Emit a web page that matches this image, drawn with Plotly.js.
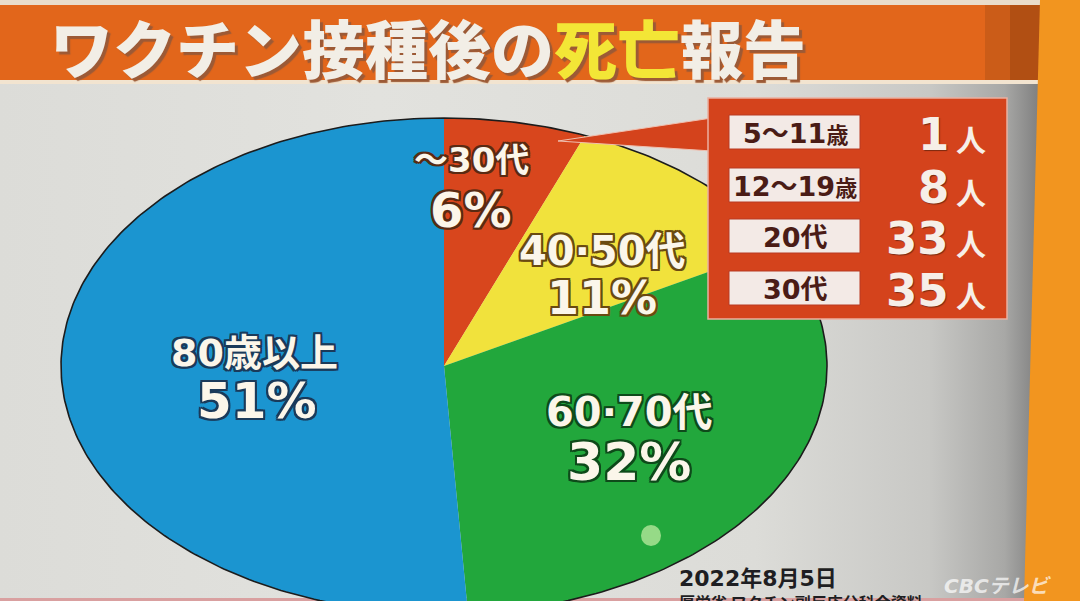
<!DOCTYPE html>
<html><head><meta charset="utf-8">
<script src="https://cdn.plot.ly/plotly-3.0.1.min.js"></script>
<style>
html,body{margin:0;padding:0;}
#chart{width:1080px;height:601px;background:linear-gradient(to right,#dcdcd8 0%,#e2e2de 35%,#dcdcd8 70%,#c8c8c5 86%,#a8a8a6 93%,#828282 96%);}
</style></head>
<body><div id="chart"></div>
<script>
// ---- data ----
const ageGroups = ['～30代', '40·50代', '60·70代', '80歳以上'];
const sharePct = [6, 11, 32, 51];
const youngGroups = ['5～11歳', '12～19歳', '20代', '30代'];
const youngCounts = [1, 8, 33, 35];
const titleMain = 'ワクチン接種後の';
const titleHi = '死亡';
const titleEnd = '報告';
const dateText = '2022年8月5日';
const sourceText = '厚労省 ワクチン副反応分科会資料';
const logoText = 'CBCテレビ';

// ---- style ----
const sliceColors = ['#d8461d', '#f1e23c', '#22a73c', '#1b95d0'];
const outlineCol = ['#5a2a12', '#6a4a10', '#0e4a1a', '#1a3a5a'];
const cx = 444, cy = 366, rx = 383, ry = 248;
const jp = 'Noto Sans CJK JP';
const numFont = 'DejaVu Sans, Noto Sans CJK JP';

function outline(c, w) {
  const o = [];
  for (const [dx, dy] of [[w,0],[-w,0],[0,w],[0,-w],[w,w],[-w,w],[w,-w],[-w,-w]]) o.push(dx+'px '+dy+'px 0 '+c);
  return o.join(', ');
}

const total = sharePct.reduce((a, b) => a + b, 0);
const traces = [];
let cum = 0;
sharePct.forEach((v, i) => {
  const t0 = cum / total, t1 = (cum + v) / total;
  cum += v;
  const xs = [cx], ys = [cy];
  const n = Math.max(4, Math.round((t1 - t0) * 400));
  for (let k = 0; k <= n; k++) {
    const th = 2 * Math.PI * (t0 + (t1 - t0) * k / n);
    xs.push(cx + rx * Math.sin(th));
    ys.push(cy - ry * Math.cos(th));
  }
  xs.push(cx); ys.push(cy);
  traces.push({type: 'scatter', mode: 'lines', x: xs, y: ys, fill: 'toself',
    fillcolor: sliceColors[i], line: {width: 0, color: sliceColors[i]},
    name: ageGroups[i], hoverinfo: 'skip', showlegend: false});
});
// ellipse outline
(function () {
  const xs = [], ys = [];
  for (let k = 0; k <= 400; k++) {
    const th = 2 * Math.PI * k / 400;
    xs.push(cx + rx * Math.sin(th));
    ys.push(cy - ry * Math.cos(th));
  }
  traces.push({type: 'scatter', mode: 'lines', x: xs, y: ys,
    line: {width: 1.6, color: '#1c1c1c'}, hoverinfo: 'skip', showlegend: false});
})();

const shapes = [
  {type: 'rect', xref: 'x', yref: 'y', x0: 0, x1: 1045, y0: 0, y1: 6, fillcolor: '#e9dccb', line: {width: 0}, layer: 'below'},
  {type: 'rect', xref: 'x', yref: 'y', x0: 0, x1: 1045, y0: 5, y1: 80, fillcolor: '#e2661b', line: {width: 0}, layer: 'below'},
  {type: 'rect', xref: 'x', yref: 'y', x0: 985, x1: 1045, y0: 5, y1: 80, fillcolor: 'rgba(150,70,20,0.3)', line: {width: 0}, layer: 'below'},
  {type: 'rect', xref: 'x', yref: 'y', x0: 1010, x1: 1045, y0: 5, y1: 80, fillcolor: 'rgba(120,50,10,0.3)', line: {width: 0}, layer: 'below'},
  {type: 'rect', xref: 'x', yref: 'y', x0: 0, x1: 1045, y0: 80, y1: 84, fillcolor: '#f2e4d0', line: {width: 0}, layer: 'below'},
  {type: 'rect', xref: 'x', yref: 'y', x0: 0, x1: 1080, y0: 598, y1: 601, fillcolor: '#d9a0a0', line: {width: 0}, layer: 'below'},
  {type: 'path', xref: 'x', yref: 'y', path: 'M1040,0 L1080,0 L1080,601 L1024,601 Z', fillcolor: '#f2951f', line: {width: 0}, layer: 'above'},
  // green glare
  {type: 'circle', xref: 'x', yref: 'y', x0: 641, x1: 661, y0: 525, y1: 546, fillcolor: 'rgba(190,235,160,0.75)', line: {width: 0}, layer: 'above'},
  // callout box + pointer
  {type: 'path', xref: 'x', yref: 'y', path: 'M558,141 L712,118 L712,151 Z', fillcolor: '#d4431c', line: {width: 1, color: '#f0c0b0'}, layer: 'above'},
  {type: 'rect', xref: 'x', yref: 'y', x0: 708, x1: 1007, y0: 98, y1: 319, fillcolor: '#d4431c', line: {width: 1.5, color: '#eab0a0'}, layer: 'above'},
  {type: 'rect', xref: 'x', yref: 'y', x0: 711, x1: 716, y0: 119, y1: 150, fillcolor: '#d4431c', line: {width: 0}, layer: 'above'}
];

const rowY = [132, 185, 236, 288];
const annotations = [];
youngGroups.forEach((g, i) => {
  shapes.push({type: 'rect', xref: 'x', yref: 'y', x0: 729, x1: 860, y0: rowY[i] - 17, y1: rowY[i] + 17,
    fillcolor: '#f3eae6', line: {width: 1, color: '#b83a22'}, layer: 'above'});
  const lbl = g.replace('歳', '<span style="font-size:22px">歳</span>');
  annotations.push({xref: 'x', yref: 'y', x: 795, y: rowY[i] + 1, text: lbl, showarrow: false,
    font: {family: numFont, size: 27, color: '#4a1c16', weight: 700}, xanchor: 'center', yanchor: 'middle'});
  annotations.push({xref: 'x', yref: 'y', x: 951, y: rowY[i] + 2, text: String(youngCounts[i]), showarrow: false,
    font: {family: numFont, size: 45, color: '#f6efe8', weight: 700, shadow: '1px 1px 1px #7a2a10'}, xanchor: 'right', yanchor: 'middle'});
  annotations.push({xref: 'x', yref: 'y', x: 971, y: rowY[i] + 6, text: '人', showarrow: false,
    font: {family: jp, size: 30, color: '#f6efe8', weight: 700}, xanchor: 'center', yanchor: 'middle'});
});

// slice labels
const labelPos = [[471, 160, 34, 210, 48], [602, 251, 40, 298, 46], [629, 412, 40, 462, 52], [254, 353, 38, 401, 50]];
ageGroups.forEach((g, i) => {
  const p = labelPos[i];
  annotations.push({xref: 'x', yref: 'y', x: p[0], y: p[1], text: g, showarrow: false,
    font: {family: numFont, size: p[2], color: '#fbf6ea', weight: 700, shadow: outline(outlineCol[i], 2)}, xanchor: 'center', yanchor: 'middle'});
  annotations.push({xref: 'x', yref: 'y', x: p[0] + (i === 3 ? 3 : 0), y: p[3], text: sharePct[i] + '%', showarrow: false,
    font: {family: numFont, size: p[4], color: '#fbf6ea', weight: 700, shadow: outline(outlineCol[i], 2)}, xanchor: 'center', yanchor: 'middle'});
});

// title
annotations.push({xref: 'x', yref: 'y', x: 48, y: 45, xanchor: 'left', yanchor: 'middle', showarrow: false,
  text: titleMain + '<span style="color:#f3e636">' + titleHi + '</span>' + titleEnd,
  font: {family: jp, size: 63, color: '#f2eee6', weight: 900, shadow: '3px 3px 1px #9c5a36'}});
// date / source / logo
annotations.push({xref: 'x', yref: 'y', x: 677, y: 578, xanchor: 'left', yanchor: 'middle', showarrow: false,
  text: dateText, font: {family: numFont, size: 22, color: '#1e1e22', weight: 700}});
annotations.push({xref: 'x', yref: 'y', x: 677, y: 588, xanchor: 'left', yanchor: 'top', showarrow: false,
  text: sourceText, font: {family: jp, size: 16, color: '#1e1e22', weight: 700}});
annotations.push({xref: 'x', yref: 'y', x: 942, y: 586, xanchor: 'left', yanchor: 'middle', showarrow: false,
  text: logoText, font: {family: 'DejaVu Sans, Noto Sans CJK JP', size: 20, color: 'rgba(255,255,255,0.7)', weight: 700, style: 'italic'}});

const layout = {
  width: 1080, height: 601,
  margin: {l: 0, r: 0, t: 0, b: 0},
  paper_bgcolor: 'rgba(0,0,0,0)', plot_bgcolor: 'rgba(0,0,0,0)',
  xaxis: {range: [0, 1080], visible: false, fixedrange: true},
  yaxis: {range: [601, 0], visible: false, fixedrange: true},
  shapes: shapes, annotations: annotations, showlegend: false, hovermode: false
};
Plotly.newPlot('chart', traces, layout, {staticPlot: true, displayModeBar: false});
</script>
</body></html>
